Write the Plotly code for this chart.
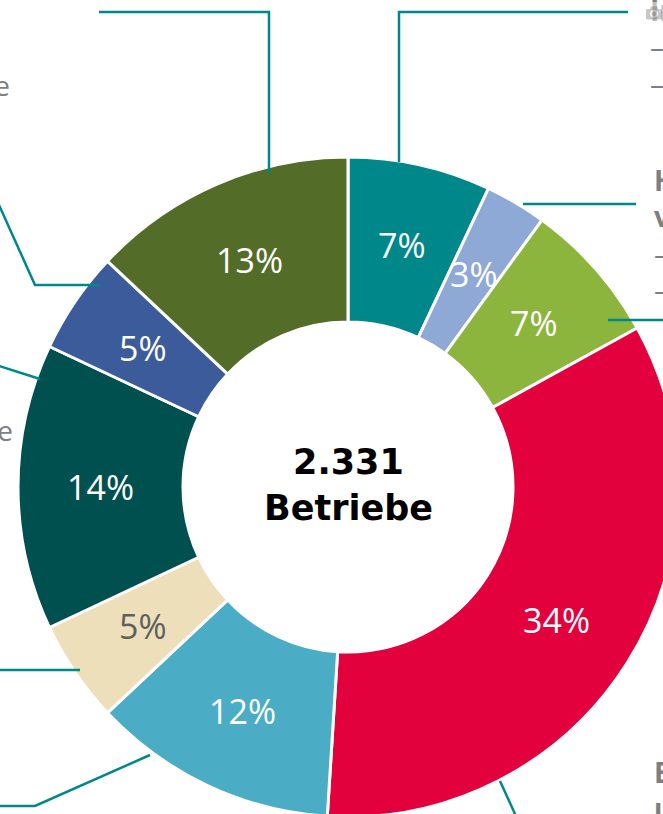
import math
import plotly.graph_objects as go

# ---- data ----
categories = ["Segment A", "Segment B", "Segment C", "Segment D", "Segment E",
              "Segment F", "Segment G", "Segment H", "Segment I"]
shares = [7, 3, 7, 34, 12, 5, 14, 5, 13]
slice_colors = ["#00878A", "#8EA9D5", "#8CB53E", "#E2003D", "#4BACC6",
                "#EDDFB9", "#00504F", "#3C5B9A", "#536C27"]
label_colors = ["white", "white", "white", "white", "white",
                "#5F5F5F", "white", "white", "white"]
center_text = "2.331<br>Betriebe"

# ---- canvas (larger than the window; excess is cropped like the reference) ----
W, H = 700, 840
def px(x):
    return x / W
def py(y):
    return (H - y) / H

cx, cy, R = 348, 487, 330
HOLE = 0.5

fig = go.Figure()
fig.add_trace(go.Pie(
    labels=categories,
    values=shares,
    sort=False,
    direction="clockwise",
    rotation=0,
    hole=HOLE,
    marker=dict(colors=slice_colors, line=dict(color="white", width=3)),
    textinfo="none",
    domain=dict(x=[px(cx - R), px(cx + R)], y=[py(cy + R), py(cy - R)]),
    showlegend=False,
    hoverinfo="skip",
))

# percentage labels centred in the ring, on each slice's bisector (derived from the data)
total = sum(shares)
r_mid = R * (1 + HOLE) / 2
cum = 0.0
for v, col in zip(shares, label_colors):
    theta = 2 * math.pi * (cum + v / 2) / total
    cum += v
    lx = cx + r_mid * math.sin(theta)
    ly = cy - r_mid * math.cos(theta)
    fig.add_annotation(
        x=px(lx), y=py(ly), xref="paper", yref="paper",
        text=f"{v}%", showarrow=False, xanchor="center", yanchor="middle",
        font=dict(family="Open Sans", size=34, color=col),
    )

fig.add_annotation(
    x=px(cx), y=py(cy - 2), xref="paper", yref="paper",
    text=f"<b>{center_text}</b>", showarrow=False,
    font=dict(family="DejaVu Sans", size=35, color="black"),
    align="center",
)

# ---- leader lines ----
line_col = "#00878A"
paths = [
    [(99, 12), (269, 12), (269, 173)],
    [(628, 12), (399, 12), (399, 162)],
    [(523, 204), (636, 204)],
    [(608, 320), (700, 320)],
    [(500, 781), (520, 825)],
    [(150, 755), (35, 806), (-10, 806)],
    [(-10, 670), (80, 670)],
    [(-10, 363), (40, 379)],
    [(-10, 185), (35, 285), (100, 285)],
]
for pts in paths:
    d = "M " + " L ".join(f"{px(x)} {py(y)}" for x, y in pts)
    fig.add_shape(type="path", path=d, xref="paper", yref="paper",
                  line=dict(color=line_col, width=2.5))

# ---- outer label texts (mostly outside the visible window, as in the reference) ----
gray = "#7F7F7F"
def label(x, y, text, anchor="left"):
    fig.add_annotation(
        x=px(x), y=py(y), xref="paper", yref="paper",
        text=text, showarrow=False, align="left",
        xanchor=anchor, yanchor="middle",
        font=dict(family="Open Sans", size=28, color=gray),
    )

label(648, 46, "<b>Industrie</b><br>– Betriebe<br>– Betriebe")
label(652, 234, "<b>Handel und</b><br><b>verkehr</b><br>– Betriebe<br>– Betriebe")
label(652, 790, "<b>Einzelhandel</b><br><b>und Gastgewerbe</b>")
label(12, 85, "Betriebe", anchor="right")
label(15, 430, "Betriebe", anchor="right")

fig.update_layout(
    width=W, height=H,
    margin=dict(l=0, r=0, t=0, b=0),
    paper_bgcolor="white", plot_bgcolor="white",
)

fig.write_html(
    "out.html",
    post_script="document.body.style.margin='0';document.body.style.overflow='hidden';",
)
